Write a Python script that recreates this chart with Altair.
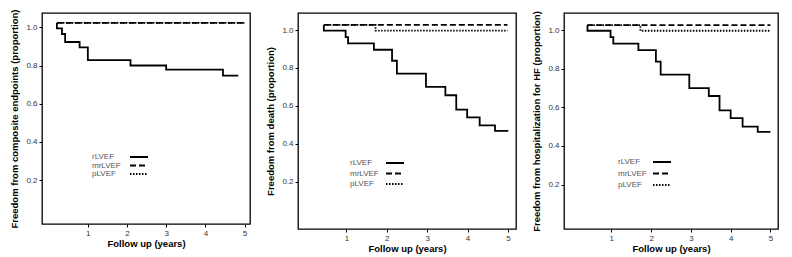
import altair as alt
import pandas as pd

series_names = ["rLVEF", "mrLVEF", "pLVEF"]

# Panel 1: composite endpoints
p1_r_t = [0.21, 0.21, 0.34, 0.42, 0.79, 1.00, 2.09, 3.00, 4.45, 4.84]
p1_r_s = [1.023, 0.995, 0.965, 0.923, 0.895, 0.828, 0.800, 0.778, 0.747, 0.747]
p1_m_t = [0.21, 5.00]
p1_m_s = [1.023, 1.023]
p1_p_t = [0.21, 5.00]
p1_p_s = [1.023, 1.023]

# Panel 2: death
p2_r_t = [0.44, 0.44, 0.98, 1.04, 1.68, 2.13, 2.25, 2.97, 3.45, 3.72, 3.99, 4.30, 4.68, 5.01]
p2_r_s = [1.027, 0.997, 0.963, 0.930, 0.896, 0.838, 0.770, 0.700, 0.656, 0.580, 0.539, 0.497, 0.468, 0.468]
p2_m_t = [0.44, 4.99]
p2_m_s = [1.027, 1.027]
p2_p_t = [0.44, 1.72, 4.99]
p2_p_s = [1.027, 0.997, 0.997]

# Panel 3: hospitalization for HF
p3_r_t = [0.40, 0.40, 0.98, 1.05, 1.68, 2.12, 2.24, 2.96, 3.45, 3.72, 4.00, 4.30, 4.68, 5.00]
p3_r_s = [1.026, 0.997, 0.964, 0.930, 0.897, 0.837, 0.770, 0.700, 0.659, 0.585, 0.544, 0.500, 0.473, 0.473]
p3_m_t = [0.40, 5.00]
p3_m_s = [1.026, 1.026]
p3_p_t = [0.40, 1.73, 5.00]
p3_p_s = [1.026, 0.997, 0.997]

x_ticks = [1, 2, 3, 4, 5]
y_ticks = [0.2, 0.4, 0.6, 0.8, 1.0]

titles = [
    "Freedom from composite endpoints (proportion)",
    "Freedom from death (proportion)",
    "Freedom from hospitalization for HF (proportion)",
]


def make_df(rt, rs, mt, ms, pt, ps):
    rows = []
    for name, ts, ss in zip(series_names, [rt, mt, pt], [rs, ms, ps]):
        for i, (t, s) in enumerate(zip(ts, ss)):
            rows.append({"series": name, "t": t, "s": s, "i": i})
    return pd.DataFrame(rows)


FONT = "Liberation Sans"
dash_scale = alt.Scale(domain=series_names, range=[[1, 0], [6, 3], [1.5, 1.5]])
legend_df = pd.DataFrame({"series": series_names})


def panel(df, ytitle, xdom, ydom, w, h, lx, sx, ly):
    lines = alt.Chart(df).mark_line(interpolate="step-after", color="black", strokeWidth=1.8).encode(
        x=alt.X("t:Q", scale=alt.Scale(domain=xdom, nice=False, zero=False),
                axis=alt.Axis(values=x_ticks, title="Follow up (years)", format="d", titlePadding=1)),
        y=alt.Y("s:Q", scale=alt.Scale(domain=ydom, nice=False, zero=False),
                axis=alt.Axis(values=y_ticks, title=ytitle, format=".1f", titleX=-23)),
        strokeDash=alt.StrokeDash("series:N", scale=dash_scale, legend=None),
        detail="series:N",
        order="i:Q",
    )
    ley = alt.Y("series:N", scale=alt.Scale(type="point", domain=series_names, range=ly, padding=0), axis=None)
    ltext = alt.Chart(legend_df).mark_text(
        align="left", baseline="middle", fontSize=8, font=FONT, color="#555"
    ).encode(x=alt.value(lx), y=ley, text="series:N")
    lrule = alt.Chart(legend_df).mark_rule(color="black", strokeWidth=1.8).encode(
        x=alt.value(sx), x2=alt.value(sx + 18), y=ley,
        strokeDash=alt.StrokeDash("series:N", scale=dash_scale, legend=None),
    )
    return alt.layer(lines, ltext, lrule).resolve_scale(y="independent").properties(width=w, height=h)


c1 = panel(make_df(p1_r_t, p1_r_s, p1_m_t, p1_m_s, p1_p_t, p1_p_s), titles[0],
           [-0.17, 5.14], [-0.03, 1.075], 208, 211, 50, 88, [144, 161])
c2 = panel(make_df(p2_r_t, p2_r_s, p2_m_t, p2_m_s, p2_p_t, p2_p_s), titles[1],
           [-0.2, 5.2], [-0.05, 1.09], 218, 216, 52, 88, [150, 171])
c3 = panel(make_df(p3_r_t, p3_r_s, p3_m_t, p3_m_s, p3_p_t, p3_p_s), titles[2],
           [-0.19, 5.19], [-0.03, 1.089], 214, 216, 54, 89, [149, 172])

chart = alt.hconcat(c1, c2, c3, spacing=13).resolve_scale(
    x="independent", y="independent"
).properties(padding=0).configure_view(stroke="black", strokeWidth=1.3).configure_axis(
    grid=False, domain=False, tickColor="black", tickSize=3, labelFontSize=8, labelColor="#333",
    labelFont=FONT, titleFont=FONT, titleFontSize=9.5, titleFontWeight="bold", titleColor="black",
    labelPadding=2, titlePadding=2,
)

chart.save("out.html", embed_options={"renderer": "svg", "actions": False})
